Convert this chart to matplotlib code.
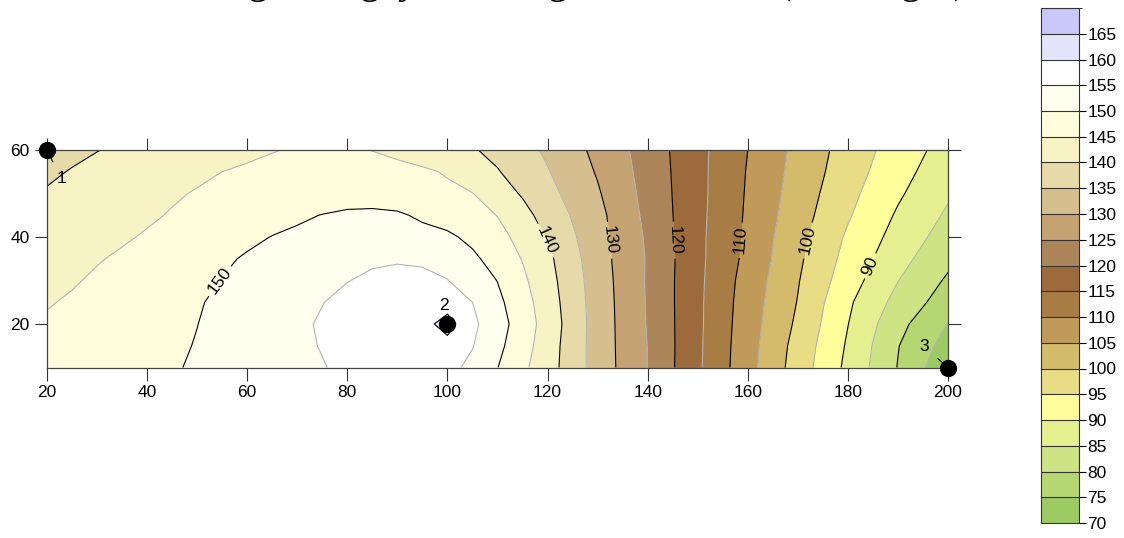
import numpy as np
import matplotlib
matplotlib.use('agg')
import matplotlib.pyplot as plt
from matplotlib.colors import ListedColormap, BoundaryNorm

# grid: x every 5 up to 120, then every 10; y every 5
x = [20, 25, 30, 35, 40, 45, 50, 55, 60, 65, 70, 75, 80, 85, 90, 95, 100, 105, 110, 115, 120,
     130, 140, 150, 160, 170, 180, 190, 200]
y = [10, 15, 20, 25, 30, 35, 40, 45, 50, 55, 60]
z = [
    [147.0, 147.5, 148.1, 148.6, 149.2, 149.7, 150.4, 151.3, 152.2, 153.1, 154.0, 154.8, 155.8, 156.6, 157.0, 156.8, 156.2, 154.0, 150.1, 146.0, 142.1,
     132.9, 124.9, 115.8, 106.8, 97.7, 88.8, 79.8, 71.0],
    [146.3, 146.9, 147.5, 148.1, 148.7, 149.3, 150.2, 151.2, 152.2, 153.2, 154.2, 155.2, 156.0, 156.8, 157.4, 158.0, 158.2, 155.2, 151.2, 147.0, 142.4,
     132.8, 124.9, 115.9, 107.0, 98.2, 89.4, 80.2, 73.0],
    [145.5, 146.2, 146.9, 147.7, 148.4, 149.2, 149.95, 151.1, 152.1, 153.2, 154.3, 155.4, 156.3, 157.0, 157.6, 158.2, 162.0, 156.0, 152.0, 147.7, 142.9,
     132.8, 124.7, 116.0, 107.3, 99.1, 90.1, 81.5, 74.8],
    [144.7, 145.5, 146.3, 147.2, 148.0, 148.9, 149.7, 150.7, 151.8, 152.8, 153.9, 154.9, 156.0, 156.7, 157.2, 157.5, 157.6, 155.0, 151.1, 147.0, 142.4,
     132.7, 124.6, 116.0, 107.6, 99.8, 90.8, 83.4, 77.5],
    [144.0, 144.6, 145.6, 146.5, 147.4, 148.3, 149.1, 150.1, 151.0, 152.0, 153.0, 153.9, 154.9, 155.6, 156.2, 156.1, 155.1, 152.7, 149.9, 145.9, 141.8,
     132.5, 124.5, 116.1, 108.0, 100.3, 92.3, 85.1, 79.3],
    [143.2, 143.9, 144.7, 145.6, 146.6, 147.5, 148.4, 149.4, 150.4, 151.4, 152.4, 153.3, 154.0, 154.5, 154.6, 154.3, 153.6, 151.0, 147.9, 144.8, 141.1,
     132.1, 124.6, 116.2, 108.7, 100.9, 93.4, 86.7, 81.2],
    [142.0, 142.8, 143.7, 144.5, 145.4, 146.4, 147.3, 148.3, 149.2, 150.1, 150.7, 151.3, 151.6, 151.7, 151.5, 151.2, 150.9, 148.8, 146.4, 143.6, 139.6,
     131.7, 124.3, 116.2, 109.0, 101.4, 94.3, 88.2, 82.8],
    [141.2, 142.0, 142.8, 143.6, 144.4, 145.3, 146.1, 146.9, 147.8, 148.6, 149.4, 150.1, 150.7, 150.8, 150.5, 149.4, 147.8, 146.4, 144.9, 141.7, 137.9,
     131.4, 123.8, 116.3, 109.3, 102.2, 95.5, 89.4, 84.3],
    [140.3, 141.2, 142.0, 142.8, 143.6, 144.5, 145.3, 145.9, 146.5, 147.0, 147.5, 147.9, 148.1, 148.2, 147.9, 147.1, 145.9, 145.1, 142.4, 139.5, 136.5,
     130.5, 123.4, 116.4, 109.5, 102.8, 96.4, 90.7, 85.6],
    [139.4, 140.2, 141.0, 141.8, 142.6, 143.4, 144.2, 145.0, 145.6, 146.2, 146.8, 147.1, 147.2, 147.0, 146.5, 145.7, 144.6, 142.5, 140.3, 137.8, 135.3,
     129.6, 123.1, 116.4, 109.7, 103.3, 97.3, 91.8, 86.9],
    [138.5, 139.2, 139.9, 140.6, 141.3, 142.0, 142.7, 143.4, 144.1, 144.8, 145.4, 145.8, 145.6, 144.9, 143.8, 142.7, 141.6, 140.4, 138.7, 136.6, 134.2,
     128.8, 122.8, 116.4, 110.0, 103.7, 97.9, 92.8, 88.0],
]

levels = list(range(70, 171, 5))
labelled = [90, 100, 110, 120, 130, 140, 150]
fill_colors = ['#9ccb64', '#b5d672', '#cde384', '#e4ef90', '#fffe9a',
               '#e8dc84', '#d4bb6b', '#c09a58', '#a87d45', '#9d6b3b',
               '#ad855a', '#c4a271', '#d5bf8e', '#e6daa8', '#f7f3c5',
               '#fffddb', '#fffff0', '#ffffff', '#e4e4fc', '#c8c8fa']

point_x = [20, 100, 200]
point_y = [60, 20, 10]
point_names = ['1', '2', '3']

title = 'Độ ẩm không khí ngày 15 tháng 7 năm 2019 (lúc 12 giờ), trạm'

plt.rcParams['font.family'] = ['Liberation Sans', 'DejaVu Sans']

fig = plt.figure(figsize=(11.24, 5.38), dpi=100)
ax = fig.add_axes([47/1124, 170.5/538, 901/1124, 217.5/538])

cmap = ListedColormap(fill_colors)
norm = BoundaryNorm(levels, cmap.N)
cf = ax.contourf(x, y, z, levels=levels, cmap=cmap, norm=norm)
ax.contour(x, y, z, levels=levels[1::2], colors='#b4b4b4', linewidths=0.8)
ax.contour(x, y, z, levels=[80, 160], colors='k', linewidths=0.8)
black = ax.contour(x, y, z, levels=labelled, colors='k', linewidths=0.8)
ax.clabel(black, fmt='%d', fontsize=12.5, inline=True, inline_spacing=4,
          manual=[(55.6, 29), (119.9, 39.3), (132.9, 39.3), (145.7, 39.3),
                  (158.4, 39.3), (171.6, 39.3), (184, 33.6)])

# sample points
ax.scatter(point_x, point_y, s=130, color='k', zorder=6, clip_on=False)
ax.annotate(point_names[0], xy=(point_x[0], point_y[0]), xytext=(22.8, 53.5),
            fontsize=12.5, ha='center', va='center',
            arrowprops=dict(arrowstyle='-', color='k', lw=0.8, shrinkA=5, shrinkB=4))
ax.annotate(point_names[1], xy=(point_x[1], point_y[1]), xytext=(99.2, 24.2),
            fontsize=12.5, ha='center', va='center')
ax.annotate(point_names[2], xy=(point_x[2], point_y[2]), xytext=(195.2, 14.8),
            fontsize=12.5, ha='center', va='center',
            arrowprops=dict(arrowstyle='-', color='k', lw=0.8, shrinkA=6, shrinkB=4))

ax.set_xlim(20, 200)
ax.set_ylim(10, 60)
ax.set_xticks(range(20, 201, 20))
ax.set_yticks([20, 40, 60])
ax.tick_params(direction='out', length=9, width=0.8, labelsize=12.5,
               top=True, right=True, colors='#333333', labelcolor='k')
for s in ax.spines.values():
    s.set_color('#444444')
    s.set_linewidth(0.9)

cax = fig.add_axes([1041/1124, 15/538, 38/1124, 515/538])
cb = fig.colorbar(cf, cax=cax, ticks=list(range(70, 166, 5)), drawedges=True)
cb.outline.set_edgecolor('#333333')
cb.outline.set_linewidth(0.8)
cb.dividers.set_color('#333333')
cb.dividers.set_linewidth(0.8)
cax.tick_params(length=5, width=0.8, labelsize=12.5, pad=1)

# title sits mostly above the top edge, as in the reference
fig.text(0.494, 1 + 7/538, title, ha='center', va='baseline', fontsize=29,
         family=['Liberation Serif', 'DejaVu Serif'])

fig.savefig('out.png', dpi=100)
plt.close(fig)
